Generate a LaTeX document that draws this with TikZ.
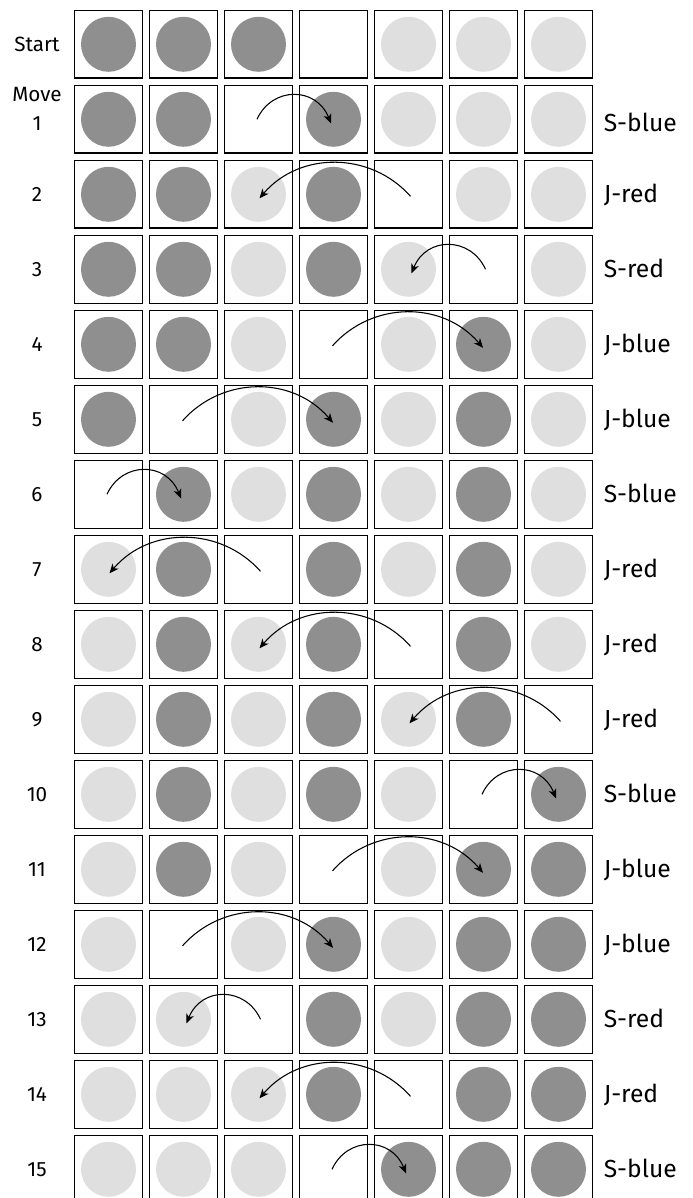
\documentclass[tikz,border=0pt]{standalone}
\usepackage{fontspec}
\setmainfont{Fira Sans}
\usetikzlibrary{arrows.meta}
\definecolor{dkgray}{RGB}{143,143,143}
\definecolor{ltgray}{RGB}{223,223,223}
\begin{document}
\begin{tikzpicture}[x=0.75pt,y=-0.75pt,
  cell/.style={draw=black,line width=0.8pt,minimum size=50.6pt,inner sep=0pt,outer sep=0pt},
  disk/.style={circle,minimum size=41.25pt,inner sep=0pt,outer sep=0pt},
  st-D/.style={disk,fill=dkgray},
  st-L/.style={disk,fill=ltgray},
  mv/.style={line width=0.8pt,-{Stealth[length=7pt,width=6pt,inset=2pt]}},
  lab/.style={font=\fontsize{15.5}{21.2}\selectfont,align=center},
  rlab/.style={font=\fontsize{18.5}{22}\selectfont,anchor=base west,inner sep=0pt}]
\useasboundingbox (0,0) rectangle (692,1198);
\foreach \r/\s in {0/{D,D,D,E,L,L,L},1/{D,D,E,D,L,L,L},2/{D,D,L,D,E,L,L},3/{D,D,L,D,L,E,L},
  4/{D,D,L,E,L,D,L},5/{D,E,L,D,L,D,L},6/{E,D,L,D,L,D,L},7/{L,D,E,D,L,D,L},
  8/{L,D,L,D,E,D,L},9/{L,D,L,D,L,D,E},10/{L,D,L,D,L,E,D},11/{L,D,L,E,L,D,D},
  12/{L,E,L,D,L,D,D},13/{L,L,E,D,L,D,D},14/{L,L,L,D,E,D,D},15/{L,L,L,E,D,D,D}}{
  \foreach \t [count=\k] in \s {
    \node[cell] (c-\r-\k) at ({108.5+75*(\k-1)},{44.3+75*\r}) {};
    \if E\t\else \node[st-\t] (p-\r-\k) at (c-\r-\k.center) {};\fi
  }
}
% left labels
\node[lab] (l0) at (37,44.3) {Start};
\node[lab] (l1) at (37,109) {Move\\1};
\foreach \r in {2,...,15}{
  \node[lab,anchor=base] (l\r) at (37,{44.3+75*\r+7}) {\r};
}
% right labels
\node[rlab] (r1) at (603.5,131.7) {S-blue};
\foreach \r/\m in {2/J-red,3/S-red,4/J-blue,5/J-blue,6/S-blue,7/J-red,8/J-red,9/J-red,
  10/S-blue,11/J-blue,12/J-blue,13/S-red,14/J-red,15/S-blue}{
  \node[rlab] (r\r) at (603.5,{44.3+75*\r+8.4}) {\m};
}
% moves
% S right
\draw[mv] ([shift={(-1.5,0)}]c-1-3.center) .. controls +(15,-33) and +(-15,-37) .. ([shift={(-2.5,4)}]c-1-4.center);
\draw[mv] ([shift={(-1.5,0)}]c-6-1.center) .. controls +(15,-33) and +(-15,-37) .. ([shift={(-2.5,4)}]c-6-2.center);
\draw[mv] ([shift={(-1.5,0)}]c-10-6.center) .. controls +(15,-33) and +(-15,-37) .. ([shift={(-2.5,4)}]c-10-7.center);
\draw[mv] ([shift={(-1.5,0)}]c-15-4.center) .. controls +(15,-33) and +(-15,-37) .. ([shift={(-2.5,4)}]c-15-5.center);
% S left
\draw[mv] ([shift={(2,0)}]c-3-6.center) .. controls +(-15,-33) and +(15,-37) .. ([shift={(3,4)}]c-3-5.center);
\draw[mv] ([shift={(2,0)}]c-13-3.center) .. controls +(-15,-33) and +(15,-37) .. ([shift={(3,4)}]c-13-2.center);
% J right
\draw[mv] ([shift={(-1,1.5)}]c-4-4.center) .. controls +(40,-45) and +(-40,-47) .. ([shift={(-0.5,3.5)}]c-4-6.center);
\draw[mv] ([shift={(-1,1.5)}]c-5-2.center) .. controls +(40,-45) and +(-40,-47) .. ([shift={(-0.5,3.5)}]c-5-4.center);
\draw[mv] ([shift={(-1,1.5)}]c-11-4.center) .. controls +(40,-45) and +(-40,-47) .. ([shift={(-0.5,3.5)}]c-11-6.center);
\draw[mv] ([shift={(-1,1.5)}]c-12-2.center) .. controls +(40,-45) and +(-40,-47) .. ([shift={(-0.5,3.5)}]c-12-4.center);
% J left
\draw[mv] ([shift={(2,2)}]c-2-5.center) .. controls +(-40,-45) and +(40,-47) .. ([shift={(1,4)}]c-2-3.center);
\draw[mv] ([shift={(2,2)}]c-7-3.center) .. controls +(-40,-45) and +(40,-47) .. ([shift={(1,4)}]c-7-1.center);
\draw[mv] ([shift={(2,2)}]c-8-5.center) .. controls +(-40,-45) and +(40,-47) .. ([shift={(1,4)}]c-8-3.center);
\draw[mv] ([shift={(2,2)}]c-9-7.center) .. controls +(-40,-45) and +(40,-47) .. ([shift={(1,4)}]c-9-5.center);
\draw[mv] ([shift={(2,2)}]c-14-5.center) .. controls +(-40,-45) and +(40,-47) .. ([shift={(1,4)}]c-14-3.center);
\end{tikzpicture}
\end{document}
